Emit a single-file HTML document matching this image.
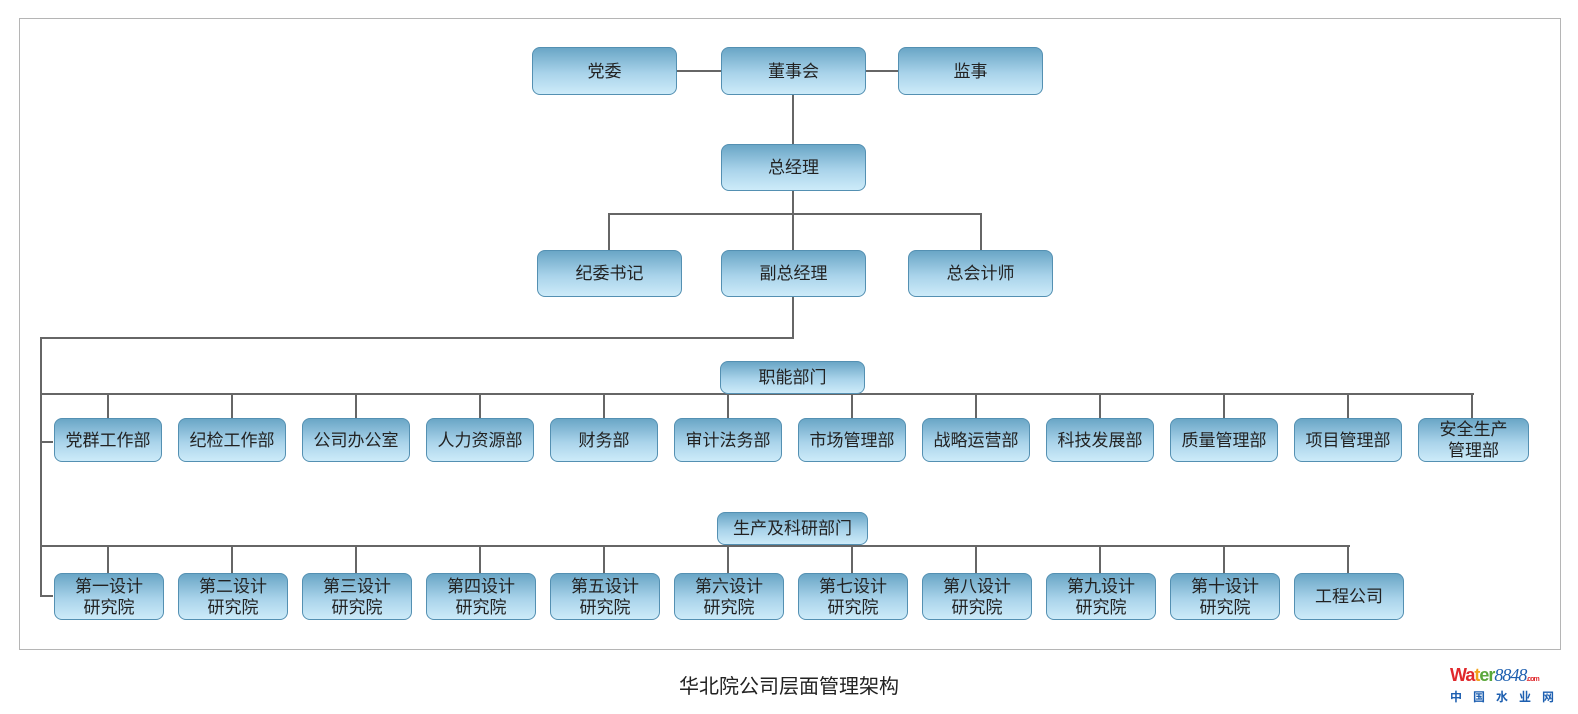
<!DOCTYPE html>
<html style="margin:0;padding:0;width:1578px;height:714px;overflow:hidden"><head><meta charset="utf-8"><style>
html,body{margin:0;padding:0;}
body{width:1578px;height:714px;background:#fff;position:relative;overflow:hidden;font-family:"Liberation Sans","Noto Sans CJK SC",sans-serif;}
#wrap{position:absolute;left:0;top:0;width:1578px;height:714px;overflow:hidden;}
.frame{position:absolute;left:19px;top:18px;width:1540px;height:630px;border:1px solid #b5b5b5;}
.b{position:absolute;box-sizing:border-box;border:1px solid #5490b2;border-radius:8px;background:linear-gradient(#6aa6c6,#a9d3ea 55%,#cdebf9);display:flex;align-items:center;justify-content:center;text-align:center;font-size:17px;line-height:21px;color:#222;}
.h,.v{position:absolute;background:#666;}
.h{height:2px}.v{width:2px}
.cap{position:absolute;left:0;width:1578px;top:670px;text-align:center;font-size:20px;color:#222}
</style></head><body><div id="wrap">
<div class="frame"></div>
<div class="h" style="left:677px;top:70px;width:221px"></div>
<div class="v" style="left:792px;top:95px;height:49px"></div>
<div class="v" style="left:792px;top:191px;height:59px"></div>
<div class="h" style="left:609px;top:213px;width:373px"></div>
<div class="v" style="left:608px;top:213px;height:37px"></div>
<div class="v" style="left:980px;top:213px;height:37px"></div>
<div class="v" style="left:792px;top:297px;height:42px"></div>
<div class="h" style="left:40px;top:337px;width:754px"></div>
<div class="v" style="left:40px;top:337px;height:260px"></div>
<div class="h" style="left:40px;top:393px;width:1434px"></div>
<div class="h" style="left:40px;top:441px;width:13px"></div>
<div class="h" style="left:40px;top:545px;width:1310px"></div>
<div class="h" style="left:40px;top:595px;width:13px"></div>
<div id="t"></div>
<div class="b" style="left:532px;top:47px;width:145px;height:48px">党委</div>
<div class="b" style="left:721px;top:47px;width:145px;height:48px">董事会</div>
<div class="b" style="left:898px;top:47px;width:145px;height:48px">监事</div>
<div class="b" style="left:721px;top:144px;width:145px;height:47px">总经理</div>
<div class="b" style="left:537px;top:250px;width:145px;height:47px">纪委书记</div>
<div class="b" style="left:721px;top:250px;width:145px;height:47px">副总经理</div>
<div class="b" style="left:908px;top:250px;width:145px;height:47px">总会计师</div>
<div class="b" style="left:720px;top:361px;width:145px;height:33px">职能部门</div>
<div class="b" style="left:717px;top:512px;width:151px;height:33px">生产及科研部门</div>
<div class="cap">华北院公司层面管理架构</div>
<div style="position:absolute;left:1450px;top:665px;width:110px;white-space:nowrap;font-size:18px;font-weight:bold;letter-spacing:-1px"><span style="color:#e0282c">Wa</span><span style="color:#f2a21c">t</span><span style="color:#5aa83c">er</span><span style="color:#1d5fb0;font-style:italic;font-weight:normal;font-family:'Liberation Serif',serif">8848</span><span style="color:#e0282c;font-size:7px">.com</span></div>
<div style="position:absolute;left:1450px;top:688px;width:110px;white-space:nowrap;font-size:12px;font-weight:bold;color:#1d5fb0;letter-spacing:11px">中国水业网</div>
</div>
<script>
var r1=["党群工作部","纪检工作部","公司办公室","人力资源部","财务部","审计法务部","市场管理部","战略运营部","科技发展部","质量管理部","项目管理部","安全生产<br>管理部"];
var r2=["第一设计<br>研究院","第二设计<br>研究院","第三设计<br>研究院","第四设计<br>研究院","第五设计<br>研究院","第六设计<br>研究院","第七设计<br>研究院","第八设计<br>研究院","第九设计<br>研究院","第十设计<br>研究院","工程公司"];
var h="";
r1.forEach(function(s,i){var c=108+124*i;var w=i==11?111:108;
h+='<div class="v" style="left:'+(c-1)+'px;top:393px;height:25px"></div>';
h+='<div class="b" style="left:'+(c-54)+'px;top:418px;width:'+w+'px;height:44px">'+s+'</div>';});
r2.forEach(function(s,i){var c=108+124*i;
h+='<div class="v" style="left:'+(c-1)+'px;top:545px;height:28px"></div>';
h+='<div class="b" style="left:'+(c-54)+'px;top:573px;width:110px;height:47px">'+s+'</div>';});
document.getElementById("t").innerHTML=h;
</script>
</body></html>
